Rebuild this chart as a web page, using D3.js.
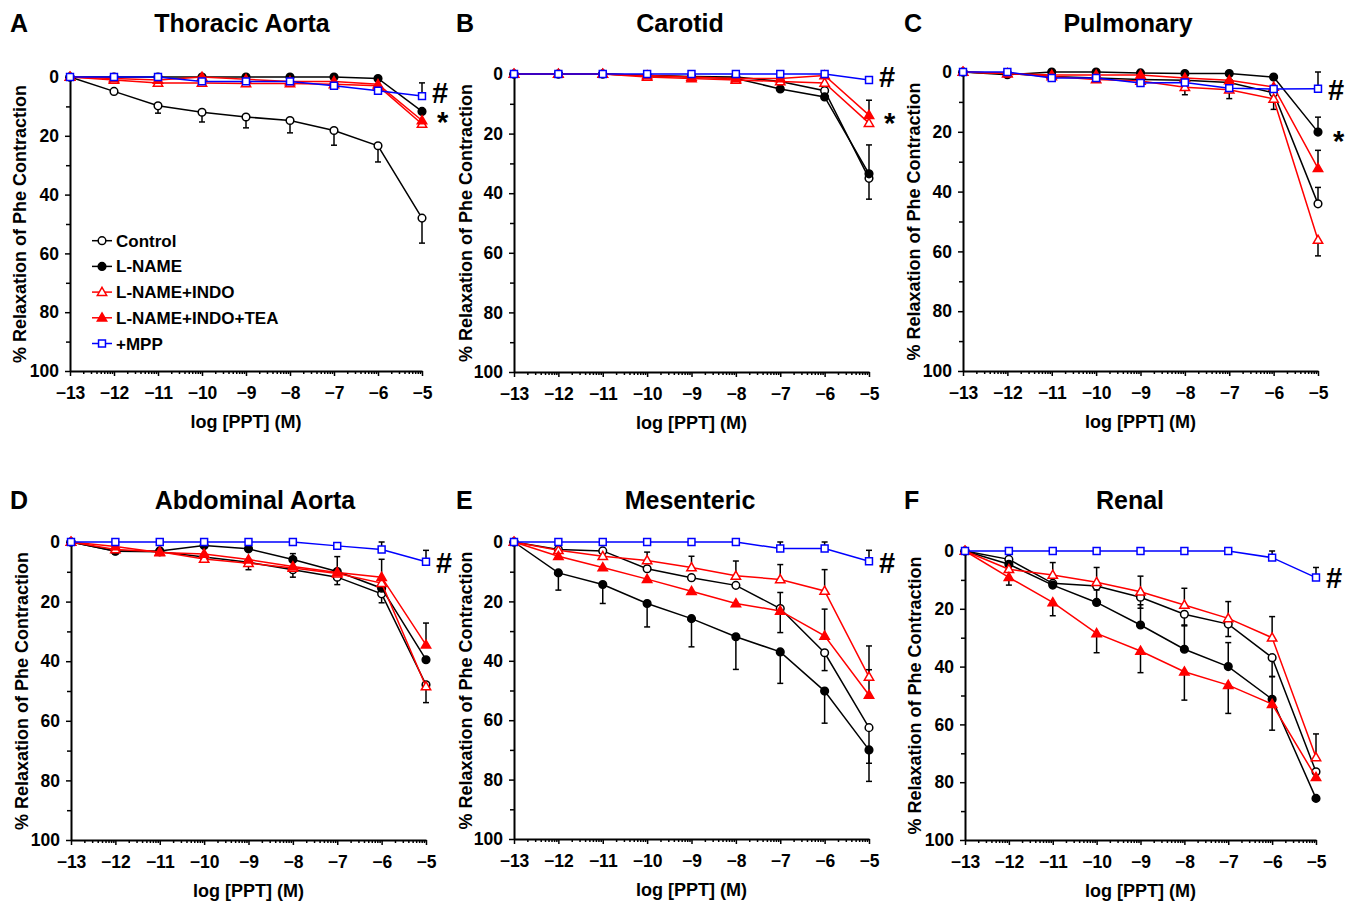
<!DOCTYPE html>
<html>
<head>
<meta charset="utf-8">
<script src="https://cdn.jsdelivr.net/npm/d3@7/dist/d3.min.js"></script>
<style>
  html, body { margin: 0; padding: 0; background: #fff; }
  svg { display: block; }
  text { font-family: "Liberation Sans", Arial, sans-serif; }
</style>
</head>
<body>
<svg id="chart" width="1355" height="902"></svg>
<script>
// ---------------- DATA ----------------
const logConc = [-13, -12, -11, -10, -9, -8, -7, -6, -5];
const xTickValues = [-13, -12, -11, -10, -9, -8, -7, -6, -5];
const yTickValues = [0, 20, 40, 60, 80, 100];
const yMinorTicks = [10, 30, 50, 70, 90];
const seriesNames = ["Control", "L-NAME", "L-NAME+INDO", "L-NAME+INDO+TEA", "+MPP"];
const panelLetters = ["A", "B", "C", "D", "E", "F"];
const panelTitles = ["Thoracic Aorta", "Carotid", "Pulmonary", "Abdominal Aorta", "Mesenteric", "Renal"];
const xAxisLabel = "log [PPT] (M)";
const yAxisLabel = "% Relaxation of Phe Contraction";

// means: rows follow seriesNames order
// SEM: positive = bar drawn toward larger relaxation, negative = bar drawn toward 0
const thoracicMean = [
  [0, 4.9, 9.8, 12, 13.6, 14.8, 18.2, 23.4, 48],
  [0, 0, 0, 0, 0, 0, 0, 0.5, 11.7],
  [0, 1, 2, 2, 2.2, 2.2, 2.5, 3, 16],
  [0, 0.5, 1, 0, 0.8, 1.5, 1.5, 2.5, 14.8],
  [0, 0, 0, 1.5, 1.5, 1.5, 3, 4.7, 6.5]
];
const thoracicSem = [
  [0, 1, 2.5, 3.3, 3.7, 4.2, 5, 5.5, 8.5],
  [0, 0, 0, 0, 0, 0, 0, 0, 0],
  [0, 0, 0, 0, 0, 0, 0, 0, 0],
  [0, 0, 0, 0, 0, 0, 0, 0, 0],
  [0, 0, 0, 0, 0, 0, 0, 0, -4.5]
];
const carotidMean = [
  [0, 0, 0, 0.5, 0.8, 1, 2.5, 5.6, 35],
  [0, 0, 0, 0.5, 1, 1.5, 5, 7.7, 33.5],
  [0, 0, 0, 1, 1.5, 2, 2.5, 3, 16.5],
  [0, 0, 0, 0.5, 1, 1.5, 1.5, 0.5, 13.8],
  [0, 0, 0, 0, 0, 0, 0, 0, 2]
];
const carotidSem = [
  [0, 0, 0, 0, 0, 0, 0, 0, 7],
  [0, 0, 0, 0, 0, 0, 0, 0, -9.7],
  [0, 0, 0, 0, 0, 0, 0, 0, 0],
  [0, 0, 0, 0, 0, 0, 0, 0, -5],
  [0, 0, 0, 0, 0, 0, 0, 0, 0]
];
const pulmonaryMean = [
  [0, 0.5, 1.5, 2, 2.5, 2.8, 3.5, 7, 44.1],
  [0, 0.9, 0, 0, 0.3, 0.5, 0.5, 1.7, 20.1],
  [0, 0.5, 1.5, 2.5, 3, 5.1, 5.9, 9, 56.2],
  [0, 0.5, 1, 1, 1, 2, 2.8, 5, 32.2],
  [0, 0, 2, 2, 3.7, 3.5, 5.4, 5.7, 5.6]
];
const pulmonarySem = [
  [0, 0, 0, 0, 0, 0, 0, 0, -5.5],
  [0, 0, 0, 0, 0, 0, 0, 0, -5],
  [0, 0, 0, 0, 0, 2.5, 3, 3.5, 5.3],
  [0, 0, 0, 0, 0, 0, 0, 0, -6],
  [0, 0, 0, 0, 0, 0, 0, 0, -5.6]
];
const abdominalMean = [
  [0, 3.1, 3.3, 5, 6.8, 9.3, 11.8, 17.4, 47.9],
  [0, 3, 3, 1.2, 2.3, 5.9, 9.9, 15.5, 39.5],
  [0, 2.5, 3.3, 5.7, 7.1, 8.7, 10.6, 13.8, 48.5],
  [0, 1.5, 3.5, 4, 5.9, 8.2, 10.2, 11.8, 34.5],
  [0, 0, 0, 0, 0, 0, 1.3, 2.5, 6.6]
];
const abdominalSem = [
  [0, 0.8, 0, 1, 2.5, 2.5, 2.5, 3, 6],
  [0, 0, 0, 0, 0, -2, -5, 0, 0],
  [0, 0, 0, 0, 0, 0, 0, 0, 0],
  [0, 0, 0, 0, 0, 0, 0, -6, -7.3],
  [0, 0, 0, 0, 0, 0, 0, -2.5, -3.8]
];
const mesentericMean = [
  [0, 2.5, 3, 9, 12, 14.6, 22.4, 37.3, 62.5],
  [0, 10.4, 14.3, 20.7, 25.8, 31.9, 37, 50.2, 70],
  [0, 2.8, 4.8, 6.2, 8.6, 11.4, 12.6, 16.5, 45.4],
  [0, 4.8, 8.6, 12.5, 16.6, 20.7, 23.2, 31.6, 51.5],
  [0, 0, 0, 0, 0, 0, 2.2, 2.2, 6.5]
];
const mesentericSem = [
  [0, 0, 0, 0, 0, 0, -5.4, 6, 12],
  [0, 5.8, 6.4, 7.9, 9.5, 11, 10.6, 10.8, 10.6],
  [0, 0, 0, -2.8, -3.8, -5, -5, -7.2, -10.4],
  [0, 0, 0, 0, 0, 0, 7.3, -9, -8.5],
  [0, 0, 0, 0, 0, 0, -2.2, -2.2, -3.7]
];
const renalMean = [
  [0, 2.9, 11.2, 12.1, 16, 21.9, 25.3, 36.9, 76.4],
  [0, 4.6, 11.8, 17.8, 25.6, 34, 40, 51.3, 85.6],
  [0, 6.3, 8.3, 10.8, 14.1, 18.7, 23.3, 30, 71.4],
  [0, 9.1, 17.8, 28.5, 34.6, 41.8, 46.4, 53, 78.3],
  [0, 0, 0, 0, 0, 0, 0, 2.3, 9.2]
];
const renalSem = [
  [0, 0, 0, 0, 3.8, 4, 4.3, 6.5, 0],
  [0, 0, 0, -4.3, -7, -8.4, -8.3, -7.8, 0],
  [0, 0, -4.3, -5.1, -5.4, -5.8, -5.8, -7.3, -8.1],
  [0, 2.7, 4.6, 6.7, 7.5, 9.8, 9.8, 9, 0],
  [0, 0, 0, 0, 0, 0, 0, -2.3, -3.5]
];
// significance marks: [symbol, value level]
const thoracicMarks = [["#", 5.4], ["*", 12.6]];
const carotidMarks = [["#", 1.0], ["*", 13.8]];
const pulmonaryMarks = [["#", 6.0], ["*", 20.4]];
const abdominalMarks = [["#", 7.0]];
const mesentericMarks = [["#", 7.0]];
const renalMarks = [["#", 9.3]];

const panelMeans = [thoracicMean, carotidMean, pulmonaryMean, abdominalMean, mesentericMean, renalMean];
const panelSems = [thoracicSem, carotidSem, pulmonarySem, abdominalSem, mesentericSem, renalSem];
const panelMarks = [thoracicMarks, carotidMarks, pulmonaryMarks, abdominalMarks, mesentericMarks, renalMarks];

// ---------------- LAYOUT / STYLE ----------------
const layout = [
  { left: 70,  right: 422,  top: 77,  bottom: 371, letterX: 10,  titleX: 242,  titleY: 32,  labelX: 26 },
  { left: 514, right: 869,  top: 74,  bottom: 372, letterX: 456, titleX: 680,  titleY: 32,  labelX: 472 },
  { left: 963, right: 1318, top: 72,  bottom: 371, letterX: 904, titleX: 1128, titleY: 32,  labelX: 920 },
  { left: 71,  right: 426,  top: 542, bottom: 840, letterX: 10,  titleX: 255,  titleY: 509, labelX: 28 },
  { left: 514, right: 869,  top: 542, bottom: 839, letterX: 456, titleX: 690,  titleY: 509, labelX: 472 },
  { left: 965, right: 1316, top: 551, bottom: 840, letterX: 904, titleX: 1130, titleY: 509, labelX: 921 }
];
const styles = [
  { color: "#000000", shape: "circle",   fill: "#ffffff" },
  { color: "#000000", shape: "circle",   fill: "#000000" },
  { color: "#ff0000", shape: "triangle", fill: "#ffffff" },
  { color: "#ff0000", shape: "triangle", fill: "#ff0000" },
  { color: "#0000ff", shape: "square",   fill: "#ffffff" }
];
const symSize = { circle: 46, triangle: 38, square: 48 };
const symType = { circle: d3.symbolCircle, triangle: d3.symbolTriangle, square: d3.symbolSquare };

const svg = d3.select("#chart");
svg.append("rect").attr("width", 1355).attr("height", 902).attr("fill", "#fff");

function drawMarker(g, st, cx, cy) {
  g.append("path")
    .attr("d", d3.symbol().type(symType[st.shape]).size(symSize[st.shape])())
    .attr("transform", `translate(${cx},${cy})` + (st.shape === "triangle" ? " translate(0,0.6)" : ""))
    .attr("fill", st.fill)
    .attr("stroke", st.color)
    .attr("stroke-width", 1.5);
}

const minorX = [];
for (let i = 0; i < xTickValues.length - 1; i++) {
  for (let k = 2; k <= 9; k++) minorX.push(xTickValues[i] + Math.log10(k));
}

layout.forEach((L, p) => {
  const x = d3.scaleLinear().domain([-13, -5]).range([L.left, L.right]);
  const y = d3.scaleLinear().domain([0, 100]).range([L.top, L.bottom]);
  const g = svg.append("g");

  // letter + title
  g.append("text").attr("x", L.letterX).attr("y", L.titleY)
    .attr("font-size", 25).attr("font-weight", "bold").text(panelLetters[p]);
  g.append("text").attr("x", L.titleX).attr("y", L.titleY)
    .attr("text-anchor", "middle").attr("font-size", 25).attr("font-weight", "bold").text(panelTitles[p]);

  // y axis
  g.append("g").attr("transform", `translate(${L.left},0)`)
    .call(d3.axisLeft(y).tickValues(yTickValues).tickSize(5).tickSizeOuter(0).tickPadding(6));
  g.append("g").attr("transform", `translate(${L.left},0)`)
    .call(d3.axisLeft(y).tickValues(yMinorTicks).tickSize(4).tickFormat("").tickSizeOuter(0))
    .select(".domain").remove();
  // x axis
  g.append("g").attr("transform", `translate(0,${L.bottom})`)
    .call(d3.axisBottom(x).tickValues(xTickValues).tickSize(5).tickSizeOuter(0).tickPadding(11));
  g.append("g").attr("transform", `translate(0,${L.bottom})`)
    .call(d3.axisBottom(x).tickValues(minorX).tickSize(3).tickFormat("").tickSizeOuter(0))
    .select(".domain").remove();

  g.selectAll(".domain").attr("stroke", "#000").attr("stroke-width", 2);
  g.selectAll(".tick line").attr("stroke", "#000").attr("stroke-width", 1.5);
  g.selectAll(".tick text").attr("font-size", 17.5).attr("font-weight", "bold").attr("fill", "#000")
    .attr("font-family", "\"Liberation Sans\", Arial, sans-serif");

  // axis labels
  g.append("text").attr("x", (L.left + L.right) / 2).attr("y", L.bottom + 57)
    .attr("text-anchor", "middle").attr("font-size", 18).attr("font-weight", "bold").text(xAxisLabel);
  g.append("text")
    .attr("transform", `translate(${L.labelX},${(L.top + L.bottom) / 2}) rotate(-90)`)
    .attr("text-anchor", "middle").attr("font-size", 18).attr("font-weight", "bold").text(yAxisLabel);

  const means = panelMeans[p], sems = panelSems[p];
  // error bars (black) under everything
  means.forEach((vals, s) => {
    vals.forEach((v, i) => {
      const e = sems[s][i];
      if (!e) return;
      const cx = x(logConc[i]);
      const y1 = y(v), y2 = y(v + e);
      g.append("line").attr("x1", cx).attr("x2", cx).attr("y1", y1).attr("y2", y2)
        .attr("stroke", "#000").attr("stroke-width", 1.5);
      g.append("line").attr("x1", cx - 3).attr("x2", cx + 3).attr("y1", y2).attr("y2", y2)
        .attr("stroke", "#000").attr("stroke-width", 1.5);
    });
  });
  // lines + markers, series in order
  const line = d3.line().x((d, i) => x(logConc[i])).y(d => y(d));
  means.forEach((vals, s) => {
    const st = styles[s];
    g.append("path").attr("d", line(vals)).attr("fill", "none")
      .attr("stroke", st.color).attr("stroke-width", 1.5);
    vals.forEach((v, i) => drawMarker(g, st, x(logConc[i]), y(v)));
  });

  // significance marks
  panelMarks[p].forEach(([sym, lvl]) => {
    const isHash = sym === "#";
    g.append("text").attr("x", x(-5) + (isHash ? 10 : 15))
      .attr("y", y(lvl) + (isHash ? 10 : 18))
      .attr("font-size", 29).attr("font-weight", "bold").text(sym);
  });

  // legend in panel A
  if (p === 0) {
    seriesNames.forEach((name, s) => {
      const ly = y(55) + s * 25.7 + 2;
      const st = styles[s];
      g.append("line").attr("x1", 92).attr("x2", 112).attr("y1", ly).attr("y2", ly)
        .attr("stroke", st.color).attr("stroke-width", 1.5);
      drawMarker(g, st, 102, ly);
      g.append("text").attr("x", 116).attr("y", ly + 6).attr("font-size", 17)
        .attr("font-weight", "bold").text(name);
    });
  }
});
</script>
</body>
</html>
